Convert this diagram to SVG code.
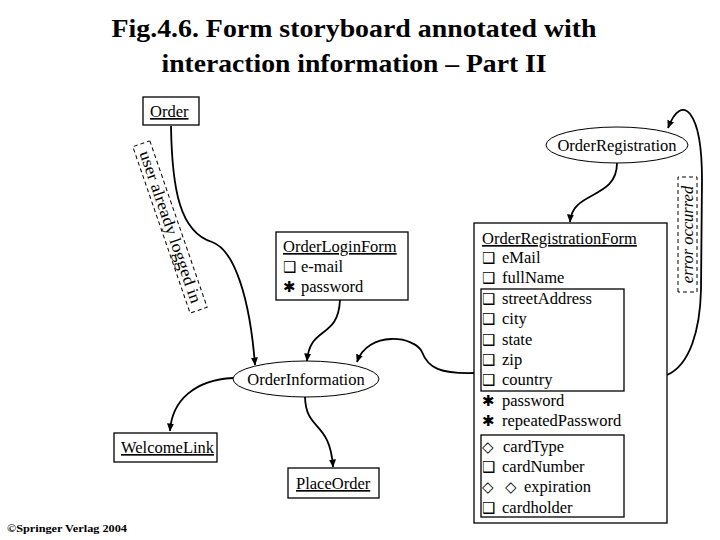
<svg xmlns="http://www.w3.org/2000/svg" width="720" height="540" viewBox="0 0 720 540">
<style>
text{font-family:"Liberation Serif","DejaVu Serif","Times New Roman",serif;fill:#000}
.t{font-family:"Liberation Serif","DejaVu Serif","Times New Roman",serif;font-size:16.5px}
.u{text-decoration:underline}
.g{font-family:"DejaVu Sans",sans-serif;font-size:15px;font-weight:bold}
.title{font-size:26px;font-weight:bold}
.box{fill:#fff;stroke:#000;stroke-width:1.3}
.ell{fill:#fff;stroke:#000;stroke-width:1}
.dash{fill:none;stroke:#000;stroke-width:1;stroke-dasharray:4 3}
.c{fill:none;stroke:#000;stroke-width:1.8}
</style>
<defs>
<marker id="ah" viewBox="0 0 8 8" refX="7.5" refY="4" markerWidth="8" markerHeight="8" markerUnits="userSpaceOnUse" orient="auto">
<path d="M0,0.5 L8,4 L0,7.5 z" fill="#000"/>
</marker>
</defs>
<rect width="720" height="540" fill="#fff"/>
<g id="title">
<text class="title" x="354" y="37" text-anchor="middle" textLength="485" lengthAdjust="spacingAndGlyphs">Fig.4.6. Form storyboard annotated with</text>
<text class="title" x="354" y="72" text-anchor="middle" textLength="385" lengthAdjust="spacingAndGlyphs">interaction information – Part II</text>
</g>
<g id="connectors">
<path class="c" d="M171,126 C172,190 180,232 212,242 C235,250 250,300 255,365" marker-end="url(#ah)"/>
<path class="c" d="M340,300 C338,340 310,325 307,361" marker-end="url(#ah)"/>
<path class="c" d="M475,373 C440,374 428,368 422,352 C415,336 368,330 357,362" marker-end="url(#ah)"/>
<path class="c" d="M233,378 C195,380 172,400 170,431" marker-end="url(#ah)"/>
<path class="c" d="M305,397 C306,432 330,420 333,467" marker-end="url(#ah)"/>
<path class="c" d="M617,163 C617,200 572,190 570,222" marker-end="url(#ah)"/>
<path class="c" d="M667,375 C690,365 700,330 701,290 L702,180 C702,110 682,92 668,128" marker-end="url(#ah)"/>
</g>
<g id="order">
<rect class="box" x="143" y="97" width="56" height="28"/>
<text class="t u" x="150" y="117">Order</text>
</g>
<g id="user-already-logged-in" transform="translate(170,227) rotate(71)">
<rect class="dash" x="-88" y="-9" width="176" height="18"/>
<text class="t" x="0" y="5" text-anchor="middle" textLength="160" lengthAdjust="spacingAndGlyphs">user already logged in</text>
</g>
<g id="order-login-form">
<rect class="box" x="276" y="232" width="132" height="68"/>
<text class="t u" x="283" y="252">OrderLoginForm</text>
<text class="t" x="283" y="272"><tspan class="g">❑</tspan><tspan x="301">e-mail</tspan></text>
<text class="t" x="283" y="292"><tspan class="g">✱</tspan><tspan x="301">password</tspan></text>
</g>
<g id="order-information">
<ellipse class="ell" cx="306" cy="379" rx="73" ry="18"/>
<text class="t" x="306" y="385" text-anchor="middle">OrderInformation</text>
</g>
<g id="welcome-link">
<rect class="box" x="114" y="433" width="103" height="29"/>
<text class="t u" x="121" y="453">WelcomeLink</text>
</g>
<g id="place-order">
<rect class="box" x="288" y="468" width="91" height="30"/>
<text class="t u" x="296" y="489">PlaceOrder</text>
</g>
<g id="order-registration">
<ellipse class="ell" cx="617" cy="145" rx="71" ry="18"/>
<text class="t" x="617" y="151" text-anchor="middle">OrderRegistration</text>
</g>
<g id="error-occurred" transform="translate(687.5,234.5) rotate(-90)">
<rect class="dash" x="-57.5" y="-9.5" width="115" height="19"/>
<text class="t" x="0" y="5" text-anchor="middle" font-style="italic">error occurred</text>
</g>
<g id="order-registration-form">
<rect class="box" x="474" y="223" width="193" height="300"/>
<rect class="box" x="481" y="289" width="143" height="102"/>
<rect class="box" x="481" y="435" width="143" height="82"/>
<text class="t u" x="482" y="244">OrderRegistrationForm</text>
<text class="t" x="482" y="263"><tspan class="g">❑</tspan><tspan x="502">eMail</tspan></text>
<text class="t" x="482" y="283"><tspan class="g">❑</tspan><tspan x="502">fullName</tspan></text>
<text class="t" x="482" y="304"><tspan class="g">❑</tspan><tspan x="502">streetAddress</tspan></text>
<text class="t" x="482" y="324"><tspan class="g">❑</tspan><tspan x="502">city</tspan></text>
<text class="t" x="482" y="345"><tspan class="g">❑</tspan><tspan x="502">state</tspan></text>
<text class="t" x="482" y="365"><tspan class="g">❑</tspan><tspan x="502">zip</tspan></text>
<text class="t" x="482" y="385"><tspan class="g">❑</tspan><tspan x="502">country</tspan></text>
<text class="t" x="482" y="406"><tspan class="g">✱</tspan><tspan x="502">password</tspan></text>
<text class="t" x="482" y="426"><tspan class="g">✱</tspan><tspan x="502">repeatedPassword</tspan></text>
<text class="t" x="482" y="452"><tspan class="g">◇</tspan><tspan x="503">cardType</tspan></text>
<text class="t" x="482" y="472"><tspan class="g">❑</tspan><tspan x="502">cardNumber</tspan></text>
<text class="t" x="482" y="492"><tspan class="g">◇</tspan><tspan class="g" x="505">◇</tspan><tspan x="524">expiration</tspan></text>
<text class="t" x="482" y="513"><tspan class="g">❑</tspan><tspan x="502">cardholder</tspan></text>
</g>
<g id="copyright">
<text x="7" y="532" font-size="11" font-weight="bold" textLength="120" lengthAdjust="spacingAndGlyphs">©Springer Verlag 2004</text>
</g>
</svg>
